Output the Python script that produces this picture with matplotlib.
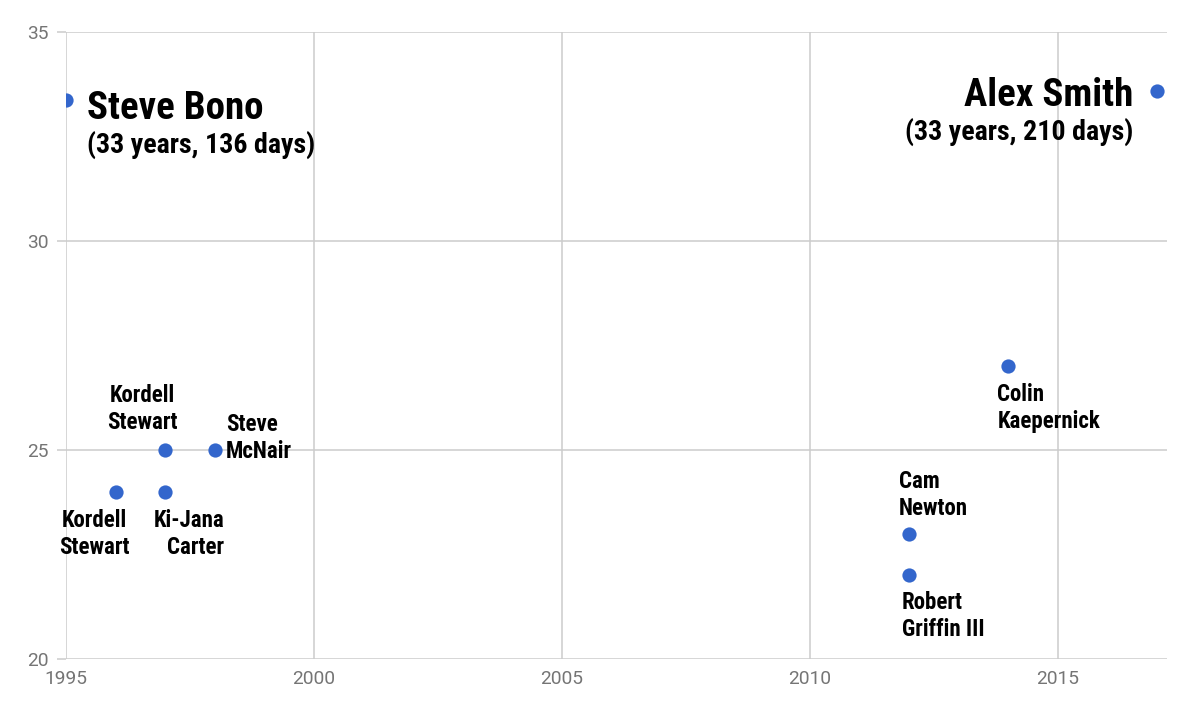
import matplotlib
matplotlib.use("Agg")
import matplotlib.pyplot as plt

# Data
names = ["Steve Bono", "Kordell\nStewart", "Kordell\nStewart", "Ki-Jana\nCarter", "Steve\nMcNair",
         "Cam\nNewton", "Robert\nGriffin III", "Colin\nKaepernick", "Alex Smith"]
years = [1995, 1996, 1997, 1997, 1998, 2012, 2012, 2014, 2017]
ages = [33.37, 24, 25, 24, 25, 23, 22, 27, 33.58]
subtitles = {0: "(33 years, 136 days)", 8: "(33 years, 210 days)"}
x_ticks = [1995, 2000, 2005, 2010, 2015]
y_ticks = [20, 25, 30, 35]

LBL_FONT = ["Liberation Sans Narrow", "Roboto Condensed", "Archivo Narrow", "Liberation Sans", "DejaVu Sans"]

fig = plt.figure(figsize=(12, 7.05), dpi=100)
ax = fig.add_axes([0.055, 0.0652, 0.9175, 0.8894])
ax.set_xlim(1995, 2017.2)
ax.set_ylim(20, 35)
ax.set_xticks(x_ticks)
ax.set_yticks(y_ticks)
ax.grid(True, color="#cccccc", linewidth=1.1)
ax.set_axisbelow(True)
for s in ax.spines.values():
    s.set_visible(False)
ax.tick_params(axis="y", length=6.5, color="#cccccc", width=1.1, pad=6,
               labelsize=13.8, labelcolor="#757575")
ax.tick_params(axis="x", length=0, pad=8, labelsize=13.8, labelcolor="#757575")
for lab in ax.get_xticklabels() + ax.get_yticklabels():
    lab.set_fontfamily("Roboto")

ax.scatter(years, ages, s=105, color="#3366cc", zorder=3, linewidths=0)

k = 0.72  # px -> points
# (dx px, dy px (up positive), ha, va)
small = {
    1: (-21, -17, "center", "top"),
    2: (-23, 16, "center", "bottom"),
    3: (59, -17, "right", "top"),
    4: (11, -13, "left", "bottom"),
    5: (-10, 14, "left", "bottom"),
    6: (-7, -16, "left", "top"),
    7: (-11, -17, "left", "top"),
}
for i, (dx, dy, ha, va) in small.items():
    ax.annotate(names[i], (years[i], ages[i]), xytext=(dx * k, dy * k),
                textcoords="offset points", ha=ha, va=va, fontsize=16.5,
                fontweight="bold", family=LBL_FONT, linespacing=1.22,
                multialignment=ha)

# Big labels
ax.annotate(names[0], (years[0], ages[0]), xytext=(21 * k, -8 * k), textcoords="offset points",
            ha="left", va="center", fontsize=28, fontweight="bold", family=LBL_FONT)
ax.annotate(subtitles[0], (years[0], ages[0]), xytext=(21 * k, -45 * k), textcoords="offset points",
            ha="left", va="center", fontsize=20.2, fontweight="bold", family=LBL_FONT)
ax.annotate(names[8], (years[8], ages[8]), xytext=(-24 * k, -4 * k), textcoords="offset points",
            ha="right", va="center", fontsize=28, fontweight="bold", family=LBL_FONT)
ax.annotate(subtitles[8], (years[8], ages[8]), xytext=(-24 * k, -41 * k), textcoords="offset points",
            ha="right", va="center", fontsize=20.2, fontweight="bold", family=LBL_FONT)

fig.savefig("out.png", dpi=100, facecolor="white")
